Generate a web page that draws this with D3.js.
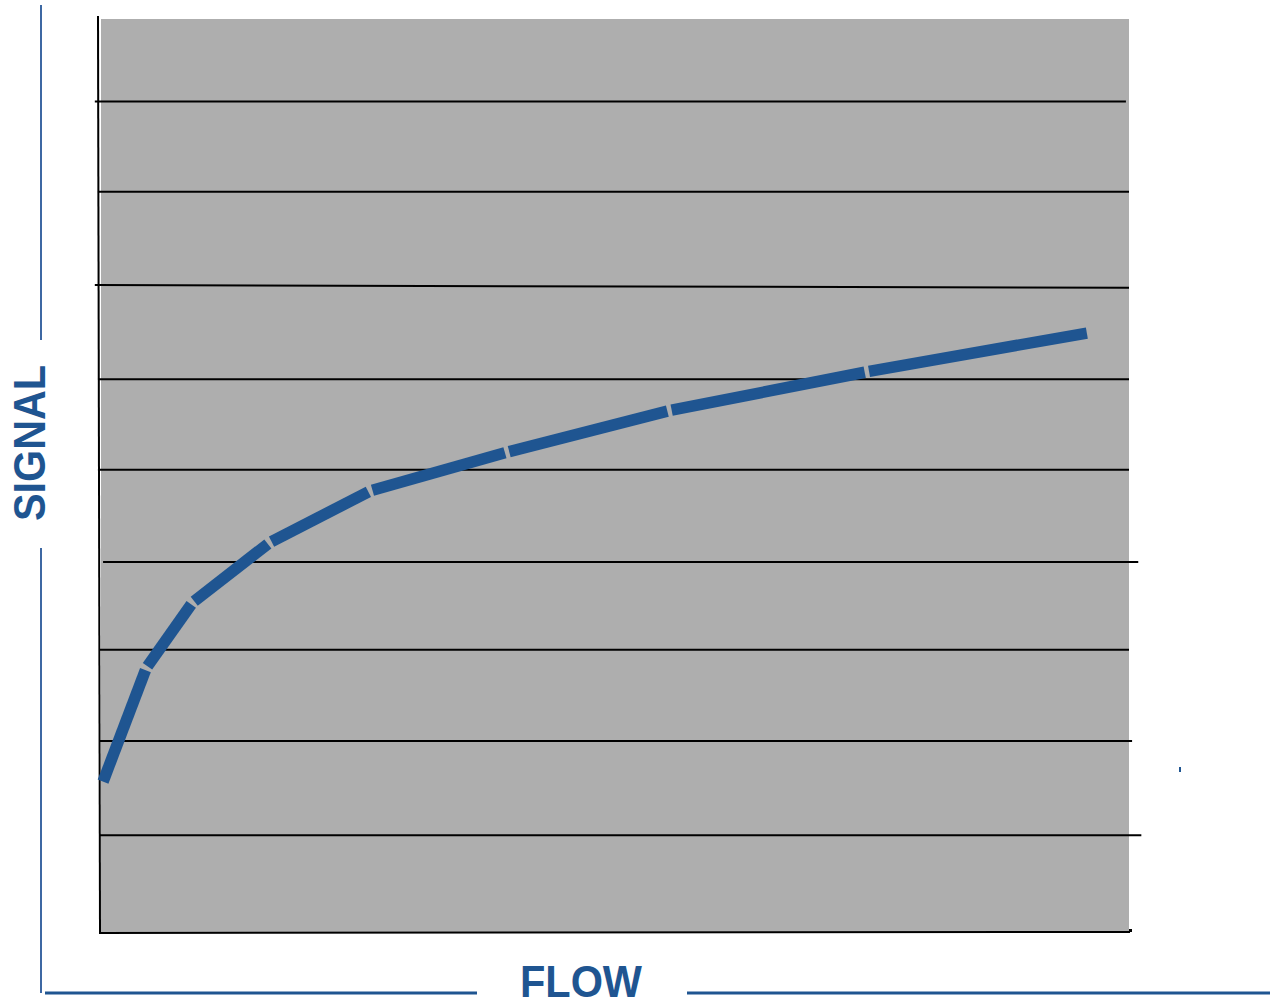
<!DOCTYPE html>
<html>
<head>
<meta charset="utf-8">
<script src="https://cdn.jsdelivr.net/npm/d3@7"></script>
<style>
  html, body { margin: 0; padding: 0; background: #fff; }
  svg { display: block; }
</style>
</head>
<body>
<div class="canvas"></div>
<script>
// curve points (flow, signal)
var flow   = [0.02, 0.44, 0.89, 1.64, 2.62, 3.95, 5.53, 7.45, 9.59];
var signal = [1.64, 2.87, 3.58, 4.23, 4.79, 5.21, 5.66, 6.08, 6.50];

// hand drawn grid lines: level at left end, level at right end, extent in flow units
var gridLeft  = [1.06, 2.08, 3.07, 4.02, 5.02, 6.00, 7.02, 8.03, 9.01];
var gridRight = [1.06, 2.08, 3.07, 4.02, 5.02, 6.00, 6.99, 8.03, 9.01];
var gridFrom  = [-0.01, -0.01, -0.01, 0.02, -0.03, -0.03, -0.06, -0.03, -0.06];
var gridTo    = [10.12, 10.03, 10.0, 10.09, 10.0, 10.0, 10.0, 10.0, 9.97];

var w = 1270, h = 1005
var blue = '#1f5591'

var x = d3.scaleLinear().domain([0, 10]).range([101, 1129])
var y = d3.scaleLinear().domain([0, 10]).range([933, 10])

var svg = d3.select('.canvas').append('svg')
    .attr('width', w)
    .attr('height', h)

// plot background
svg.append('rect')
    .attr('x', x(0))
    .attr('y', 19)
    .attr('width', x(10) - x(0))
    .attr('height', y(0) - 19)
    .style('fill', '#aeaeae')

// grid lines
svg.selectAll('.grid')
    .data(gridLeft)
    .enter()
    .append('line')
    .attr('class', 'grid')
    .attr('x1', (d, i) => x(gridFrom[i]))
    .attr('x2', (d, i) => x(gridTo[i]))
    .attr('y1', d => y(d))
    .attr('y2', (d, i) => y(gridRight[i]))
    .style('stroke', '#000')
    .style('stroke-width', 2)

// axes
svg.append('line')
    .attr('x1', 98).attr('y1', 16)
    .attr('x2', 100).attr('y2', y(0))
    .style('stroke', '#000').style('stroke-width', 2)
svg.append('line')
    .attr('x1', 99).attr('y1', y(0))
    .attr('x2', 1130).attr('y2', y(0) - 1)
    .style('stroke', '#000').style('stroke-width', 2)
svg.append('rect')
    .attr('x', 1129).attr('y', 929)
    .attr('width', 3).attr('height', 3)
    .style('fill', '#000')

// curve drawn as separate strokes with small gaps at each point
var pts = flow.map((f, i) => [x(f), y(signal[i])])
var segs = d3.pairs(pts)
var gap = 2.2

svg.selectAll('.seg')
    .data(segs)
    .enter()
    .append('line')
    .attr('class', 'seg')
    .each(function(d, i) {
        var dx = d[1][0] - d[0][0], dy = d[1][1] - d[0][1]
        var len = Math.sqrt(dx * dx + dy * dy)
        var ux = dx / len, uy = dy / len
        var g0 = i === 0 ? 0 : gap
        var g1 = i === segs.length - 1 ? 0 : gap
        d3.select(this)
            .attr('x1', d[0][0] + ux * g0)
            .attr('y1', d[0][1] + uy * g0)
            .attr('x2', d[1][0] - ux * g1)
            .attr('y2', d[1][1] - uy * g1)
    })
    .style('stroke', blue)
    .style('stroke-width', 11.5)
    .style('stroke-linecap', 'butt')

// outer frame lines
svg.append('line')
    .attr('x1', 41).attr('y1', 5).attr('x2', 41).attr('y2', 340)
    .style('stroke', '#3d68a3').style('stroke-width', 2)
svg.append('line')
    .attr('x1', 41).attr('y1', 548).attr('x2', 41).attr('y2', 993)
    .style('stroke', '#3d68a3').style('stroke-width', 2)
svg.append('line')
    .attr('x1', 45).attr('y1', 993).attr('x2', 477).attr('y2', 993)
    .style('stroke', blue).style('stroke-width', 3)
svg.append('line')
    .attr('x1', 687).attr('y1', 993).attr('x2', 1270).attr('y2', 993)
    .style('stroke', blue).style('stroke-width', 3)
svg.append('rect')
    .attr('x', 1179).attr('y', 767)
    .attr('width', 2).attr('height', 5)
    .style('fill', blue)

// axis titles
svg.append('text')
    .attr('transform', 'translate(45,443) rotate(-90)')
    .attr('text-anchor', 'middle')
    .attr('textLength', 156)
    .attr('lengthAdjust', 'spacingAndGlyphs')
    .style('font-family', 'Liberation Sans, Arial, sans-serif')
    .style('font-weight', 'bold')
    .style('font-size', '44px')
    .style('fill', blue)
    .text('SIGNAL')

svg.append('text')
    .attr('x', 581)
    .attr('y', 997)
    .attr('text-anchor', 'middle')
    .attr('textLength', 122)
    .attr('lengthAdjust', 'spacingAndGlyphs')
    .style('font-family', 'Liberation Sans, Arial, sans-serif')
    .style('font-weight', 'bold')
    .style('font-size', '44px')
    .style('fill', blue)
    .text('FLOW')
</script>
</body>
</html>
